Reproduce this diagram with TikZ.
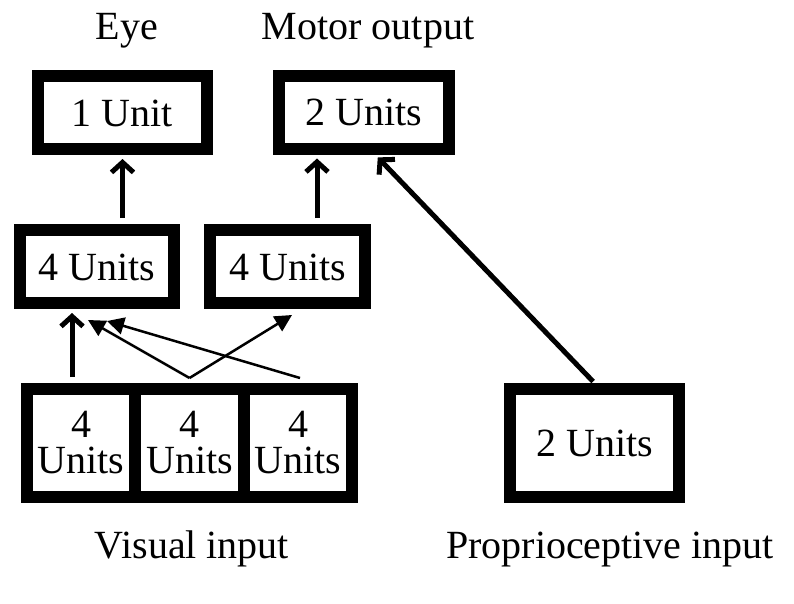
\documentclass[tikz,border=0pt]{standalone}
\usepackage{fontspec}
\setmainfont{Liberation Serif}
\usetikzlibrary{arrows.meta,calc}
\begin{document}
\begin{tikzpicture}[x=1pt,y=-1pt,
  box/.style={draw, line width=12pt, inner sep=0pt, align=center, font=\fontsize{40}{36}\selectfont},
  onebox/.style={box, text height=27pt, text depth=0pt},
  lbl/.style={anchor=base, inner sep=0pt, font=\fontsize{40}{48}\selectfont},
  thickarrow/.style={line width=5pt, -{Straight Barb[length=10pt,width=22pt]}, shorten <=6pt, shorten >=4pt},
  thinarrow/.style={line width=2.5pt, line join=miter, -{Triangle[length=17pt,width=17pt]}}]
\useasboundingbox (0,0) rectangle (794,603);
\fill[white] (0,0) rectangle (794,603);
% boxes
\node[onebox, minimum width=169pt, minimum height=73pt] (eye) at (122.5,112.5) {1 Unit};
\node[onebox, minimum width=170pt, minimum height=73pt] (motor) at (364,112) {2 Units};
\node[onebox, minimum width=154pt, minimum height=73pt] (hl) at (97,266.5) {4 Units};
\node[onebox, minimum width=155pt, minimum height=73pt] (hr) at (287.5,266.5) {4 Units};
\node[box, minimum width=108pt, minimum height=108pt] (v1) at (81,443) {4\\Units};
\node[box, minimum width=109pt, minimum height=108pt] (v2) at (189.5,443) {4\\Units};
\node[box, minimum width=108pt, minimum height=108pt] (v3) at (298,443) {4\\Units};
\node[onebox, minimum width=169pt, minimum height=108pt] (prop) at (594.5,443) {2 Units};
% labels
\node[lbl] (leye) at (127,39) {Eye};
\node[lbl] (lmotor) at (368,39) {Motor output};
\node[lbl] (lvis) at (192,558) {Visual input};
\node[lbl] (lprop) at (610,558) {Proprioceptive input};
% helper coordinates
\coordinate (mx) at (317,0);
\coordinate (px) at (375,0);
\coordinate (vx) at (72,0);
\coordinate (ta) at (88,320);
\coordinate (tb) at (107,321);
\coordinate (tc) at (292,315);
\coordinate (apex) at ($(v2.north)+(0,-5)$);
\coordinate (v3s) at ($(v3.north)+(2,-5)$);
% thick arrows
\draw[thickarrow] (eye.south |- hl.north) -- (eye.south);
\draw[thickarrow] (mx |- hr.north) -- (mx |- motor.south);
\draw[thickarrow, shorten <=2pt] (prop.north) -- (px |- motor.south);
\draw[thickarrow] (vx |- v1.north) -- (vx |- hl.south);
% thin arrows
\draw[thinarrow] (apex) -- (ta);
\draw[thinarrow] (apex) -- (tc);
\draw[thinarrow] (v3s) -- (tb);
\end{tikzpicture}
\end{document}
